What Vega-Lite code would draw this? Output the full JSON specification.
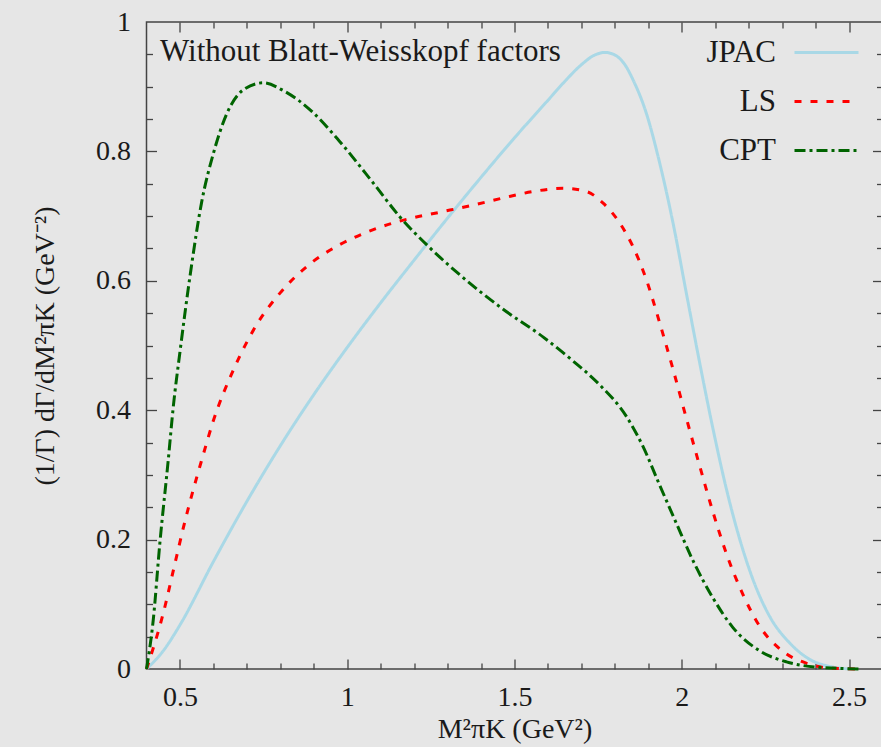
{
  "$schema": "https://vega.github.io/schema/vega-lite/v6.json",
  "width": 736,
  "height": 647,
  "autosize": {"type": "none"},
  "padding": {"left": 146.5, "top": 22, "right": 0, "bottom": 78},
  "background": "#e6e6e6",
  "config": {
    "view": {"stroke": "#444444", "strokeWidth": 1.5, "fill": null},
    "font": "Liberation Serif",
    "axis": {"grid": false, "domain": false, "labelFont": "Liberation Serif", "titleFont": "Liberation Serif", "labelColor": "#1a1a1a", "titleColor": "#1a1a1a", "tickColor": "#444444", "tickWidth": 1.3, "tickOpacity": 1, "labelFontSize": 28, "titleFontSize": 28, "titleFontWeight": "normal", "format": "~g"}
  },
  "data": {"values": [
    {"model": "JPAC", "x": 0.40, "y": 0.0},
    {"model": "JPAC", "x": 0.45, "y": 0.028},
    {"model": "JPAC", "x": 0.5, "y": 0.068},
    {"model": "JPAC", "x": 0.6, "y": 0.166},
    {"model": "JPAC", "x": 0.7, "y": 0.259},
    {"model": "JPAC", "x": 0.8, "y": 0.345},
    {"model": "JPAC", "x": 0.9, "y": 0.424},
    {"model": "JPAC", "x": 1.0, "y": 0.497},
    {"model": "JPAC", "x": 1.1, "y": 0.566},
    {"model": "JPAC", "x": 1.2, "y": 0.632},
    {"model": "JPAC", "x": 1.3, "y": 0.697},
    {"model": "JPAC", "x": 1.4, "y": 0.760},
    {"model": "JPAC", "x": 1.5, "y": 0.821},
    {"model": "JPAC", "x": 1.6, "y": 0.879},
    {"model": "JPAC", "x": 1.65, "y": 0.908},
    {"model": "JPAC", "x": 1.7, "y": 0.934},
    {"model": "JPAC", "x": 1.74, "y": 0.949},
    {"model": "JPAC", "x": 1.77, "y": 0.953},
    {"model": "JPAC", "x": 1.8, "y": 0.949},
    {"model": "JPAC", "x": 1.83, "y": 0.934},
    {"model": "JPAC", "x": 1.854, "y": 0.911},
    {"model": "JPAC", "x": 1.894, "y": 0.859},
    {"model": "JPAC", "x": 1.934, "y": 0.782},
    {"model": "JPAC", "x": 1.974, "y": 0.689},
    {"model": "JPAC", "x": 2.014, "y": 0.58},
    {"model": "JPAC", "x": 2.054, "y": 0.472},
    {"model": "JPAC", "x": 2.093, "y": 0.372},
    {"model": "JPAC", "x": 2.133, "y": 0.279},
    {"model": "JPAC", "x": 2.173, "y": 0.201},
    {"model": "JPAC", "x": 2.213, "y": 0.138},
    {"model": "JPAC", "x": 2.263, "y": 0.081},
    {"model": "JPAC", "x": 2.323, "y": 0.04},
    {"model": "JPAC", "x": 2.382, "y": 0.015},
    {"model": "JPAC", "x": 2.452, "y": 0.003},
    {"model": "JPAC", "x": 2.502, "y": 0.0},
    {"model": "LS", "x": 0.40, "y": 0.0},
    {"model": "LS", "x": 0.45, "y": 0.086},
    {"model": "LS", "x": 0.485, "y": 0.163},
    {"model": "LS", "x": 0.51, "y": 0.218},
    {"model": "LS", "x": 0.535, "y": 0.268},
    {"model": "LS", "x": 0.565, "y": 0.323},
    {"model": "LS", "x": 0.6, "y": 0.384},
    {"model": "LS", "x": 0.664, "y": 0.467},
    {"model": "LS", "x": 0.729, "y": 0.532},
    {"model": "LS", "x": 0.799, "y": 0.581},
    {"model": "LS", "x": 0.879, "y": 0.622},
    {"model": "LS", "x": 0.978, "y": 0.656},
    {"model": "LS", "x": 1.078, "y": 0.679},
    {"model": "LS", "x": 1.177, "y": 0.695},
    {"model": "LS", "x": 1.277, "y": 0.706},
    {"model": "LS", "x": 1.376, "y": 0.717},
    {"model": "LS", "x": 1.466, "y": 0.728},
    {"model": "LS", "x": 1.556, "y": 0.738},
    {"model": "LS", "x": 1.645, "y": 0.743},
    {"model": "LS", "x": 1.715, "y": 0.738},
    {"model": "LS", "x": 1.765, "y": 0.72},
    {"model": "LS", "x": 1.815, "y": 0.689},
    {"model": "LS", "x": 1.854, "y": 0.653},
    {"model": "LS", "x": 1.894, "y": 0.602},
    {"model": "LS", "x": 1.934, "y": 0.535},
    {"model": "LS", "x": 1.974, "y": 0.463},
    {"model": "LS", "x": 2.014, "y": 0.387},
    {"model": "LS", "x": 2.054, "y": 0.313},
    {"model": "LS", "x": 2.093, "y": 0.243},
    {"model": "LS", "x": 2.133, "y": 0.179},
    {"model": "LS", "x": 2.183, "y": 0.115},
    {"model": "LS", "x": 2.233, "y": 0.066},
    {"model": "LS", "x": 2.303, "y": 0.027},
    {"model": "LS", "x": 2.372, "y": 0.009},
    {"model": "LS", "x": 2.452, "y": 0.001},
    {"model": "LS", "x": 2.54, "y": 0.0},
    {"model": "CPT", "x": 0.40, "y": 0.0},
    {"model": "CPT", "x": 0.42, "y": 0.075},
    {"model": "CPT", "x": 0.44, "y": 0.195},
    {"model": "CPT", "x": 0.465, "y": 0.323},
    {"model": "CPT", "x": 0.48, "y": 0.405},
    {"model": "CPT", "x": 0.5, "y": 0.49},
    {"model": "CPT", "x": 0.53, "y": 0.607},
    {"model": "CPT", "x": 0.565, "y": 0.722},
    {"model": "CPT", "x": 0.6, "y": 0.797},
    {"model": "CPT", "x": 0.639, "y": 0.857},
    {"model": "CPT", "x": 0.689, "y": 0.895},
    {"model": "CPT", "x": 0.749, "y": 0.906},
    {"model": "CPT", "x": 0.809, "y": 0.894},
    {"model": "CPT", "x": 0.898, "y": 0.86},
    {"model": "CPT", "x": 0.978, "y": 0.815},
    {"model": "CPT", "x": 1.078, "y": 0.751},
    {"model": "CPT", "x": 1.157, "y": 0.699},
    {"model": "CPT", "x": 1.247, "y": 0.651},
    {"model": "CPT", "x": 1.337, "y": 0.609},
    {"model": "CPT", "x": 1.466, "y": 0.556},
    {"model": "CPT", "x": 1.586, "y": 0.513},
    {"model": "CPT", "x": 1.675, "y": 0.476},
    {"model": "CPT", "x": 1.755, "y": 0.439},
    {"model": "CPT", "x": 1.835, "y": 0.39},
    {"model": "CPT", "x": 1.884, "y": 0.344},
    {"model": "CPT", "x": 1.934, "y": 0.284},
    {"model": "CPT", "x": 1.984, "y": 0.225},
    {"model": "CPT", "x": 2.034, "y": 0.167},
    {"model": "CPT", "x": 2.093, "y": 0.11},
    {"model": "CPT", "x": 2.153, "y": 0.064},
    {"model": "CPT", "x": 2.233, "y": 0.028},
    {"model": "CPT", "x": 2.313, "y": 0.011},
    {"model": "CPT", "x": 2.402, "y": 0.003},
    {"model": "CPT", "x": 2.54, "y": 0.0}
  ]},
  "resolve": {"axis": {"x": "independent", "y": "independent"}},
  "layer": [
    {
      "mark": {"type": "line", "strokeWidth": 3, "interpolate": "monotone"},
      "encoding": {
        "x": {"field": "x", "type": "quantitative", "scale": {"domain": [0.4, 2.6], "nice": false, "zero": false},
              "axis": {"orient": "bottom", "values": [0.5, 1, 1.5, 2, 2.5], "ticks": false, "labelPadding": 14, "title": "M²πK (GeV²)", "titlePadding": 4}},
        "y": {"field": "y", "type": "quantitative", "scale": {"domain": [0, 1], "nice": false},
              "axis": {"orient": "left", "values": [0, 0.2, 0.4, 0.6, 0.8, 1], "ticks": false, "labelPadding": 16, "title": "(1/Γ) dΓ/dM²πK (GeV⁻²)", "titlePadding": 36}},
        "color": {"field": "model", "type": "nominal", "sort": ["JPAC", "LS", "CPT"],
                  "scale": {"domain": ["JPAC", "LS", "CPT"], "range": ["#a9d8e6", "#ff0000", "#006400"]},
                  "legend": {"title": null, "orient": "none", "legendX": 646.5, "legendY": -3, "padding": 0, "symbolType": "stroke", "symbolSize": 4096, "symbolStrokeWidth": 3, "rowPadding": -29, "labelAlign": "right", "labelOffset": -84, "labelBaseline": "middle", "labelFont": "Liberation Serif", "labelFontSize": 31, "labelColor": "#1a1a1a", "labelLimit": 300}},
        "strokeDash": {"field": "model", "type": "nominal", "sort": ["JPAC", "LS", "CPT"],
                  "scale": {"domain": ["JPAC", "LS", "CPT"], "range": [[1, 0], [7, 9], [11, 4, 3, 4]]},
                  "legend": {"title": null, "orient": "none", "legendX": 646.5, "legendY": -3, "padding": 0, "symbolType": "stroke", "symbolSize": 4096, "symbolStrokeWidth": 3, "rowPadding": -29, "labelAlign": "right", "labelOffset": -84, "labelBaseline": "middle", "labelFont": "Liberation Serif", "labelFontSize": 31, "labelColor": "#1a1a1a", "labelLimit": 300}}
      }
    },
    {
      "data": {"values": [{"label": "Without Blatt-Weisskopf factors"}]},
      "mark": {"type": "text", "align": "left", "baseline": "alphabetic", "dx": 13.5, "dy": 39, "font": "Liberation Serif", "fontSize": 31, "color": "#1a1a1a"},
      "encoding": {
        "x": {"datum": 0.4, "type": "quantitative", "axis": null},
        "y": {"datum": 1, "type": "quantitative", "axis": null},
        "text": {"field": "label"}
      }
    },
    {
      "mark": {"type": "point", "opacity": 0},
      "encoding": {
        "x": {"field": "x", "type": "quantitative", "axis": {"orient": "bottom", "values": [0.5, 1, 1.5, 2, 2.5], "offset": -10, "tickSize": 10, "labels": false, "title": null}},
        "y": {"field": "y", "type": "quantitative", "axis": {"orient": "left", "values": [0.2, 0.4, 0.6, 0.8], "offset": -10, "tickSize": 10, "labels": false, "title": null}}
      }
    },
    {
      "mark": {"type": "point", "opacity": 0},
      "encoding": {
        "x": {"field": "x", "type": "quantitative", "axis": {"orient": "bottom", "values": [0.6, 0.7, 0.8, 0.9, 1.1, 1.2, 1.3, 1.4, 1.6, 1.7, 1.8, 1.9, 2.1, 2.2, 2.3, 2.4], "offset": -6, "tickSize": 6, "labels": false, "title": null}},
        "y": {"field": "y", "type": "quantitative", "axis": {"orient": "left", "values": [0.05, 0.1, 0.15, 0.25, 0.3, 0.35, 0.45, 0.5, 0.55, 0.65, 0.7, 0.75, 0.85, 0.9, 0.95], "offset": -6, "tickSize": 6, "labels": false, "title": null}}
      }
    },
    {
      "mark": {"type": "point", "opacity": 0},
      "encoding": {
        "x": {"field": "x", "type": "quantitative", "axis": {"orient": "top", "values": [0.5, 1, 1.5, 2, 2.5], "offset": -10, "tickSize": 10, "labels": false, "title": null}},
        "y": {"field": "y", "type": "quantitative", "axis": {"orient": "right", "values": [0.2, 0.4, 0.6, 0.8], "offset": -10, "tickSize": 10, "labels": false, "title": null}}
      }
    },
    {
      "mark": {"type": "point", "opacity": 0},
      "encoding": {
        "x": {"field": "x", "type": "quantitative", "axis": {"orient": "top", "values": [0.6, 0.7, 0.8, 0.9, 1.1, 1.2, 1.3, 1.4, 1.6, 1.7, 1.8, 1.9, 2.1, 2.2, 2.3, 2.4], "offset": -6, "tickSize": 6, "labels": false, "title": null}},
        "y": {"field": "y", "type": "quantitative", "axis": {"orient": "right", "values": [0.05, 0.1, 0.15, 0.25, 0.3, 0.35, 0.45, 0.5, 0.55, 0.65, 0.7, 0.75, 0.85, 0.9, 0.95], "offset": -6, "tickSize": 6, "labels": false, "title": null}}
      }
    }
  ]
}
